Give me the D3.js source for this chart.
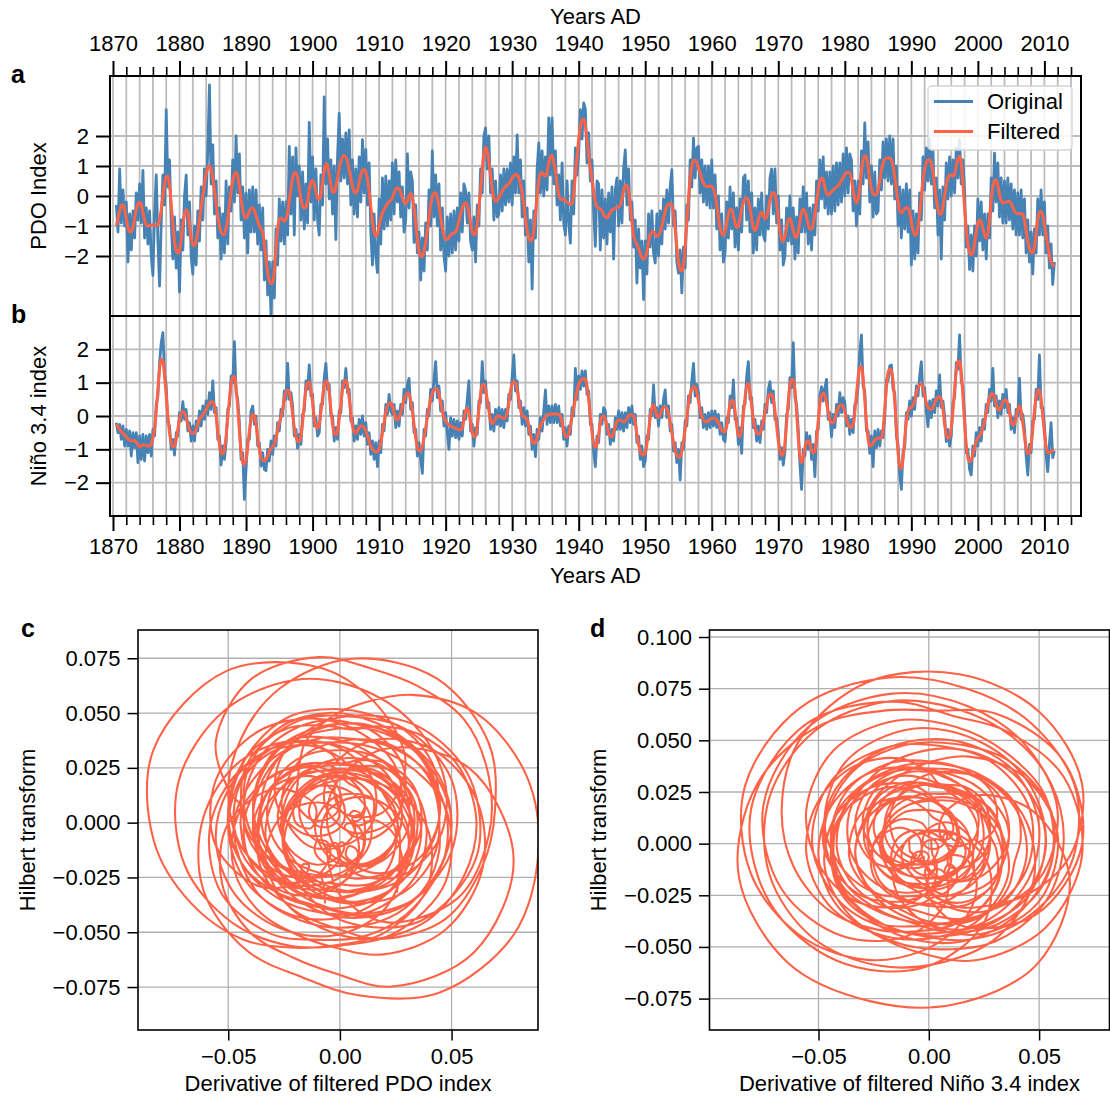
<!DOCTYPE html>
<html><head><meta charset="utf-8">
<script src="https://cdn.jsdelivr.net/npm/d3@7"></script>
<style>
body{margin:0;background:#fff}
svg{display:block}
text{font-family:"Liberation Sans",Arial,Helvetica,sans-serif;fill:#000}
</style></head><body>
<svg id="fig" width="1110" height="1097"></svg>
<script>
// Quarterly samples of the monthly indices, first sample at 1870.5
const startYear = 1870.5;
const stepYears = 0.25;

const pdoOriginal = [
 -0.3,-1.2,
 0.9,-0.9,0.2,-1.0, -0.2,-2.2,-0.6,-1.8, -0.5,-1.4,0.1,-0.8, 0.4,-0.9,0.85,-1.4, -0.4,-1.6,-0.5,-2.0,
 -2.65,-0.6,0.7,-1.5, -3.0,-0.9,0.7,-0.3, 2.88,0.3,1.2,-0.9, -2.1,-0.7,-2.4,-1.2, -3.2,-0.8,-1.8,0.0,
 0.7,-1.3,-0.2,-2.0, -2.6,-1.0,-2.3,-0.5, -1.5,0.3,-0.8,0.9, 0.0,1.5,3.7,0.4, 1.7,-0.6,0.5,-1.4,
 -0.4,-2.1,-0.6,-1.9, 0.5,-1.6,0.3,-0.5, 1.2,-0.2,2.0,0.1, 1.4,-0.8,0.3,-1.4, 0.1,-1.9,0.2,-1.2,
 0.3,-1.2,0.2,-1.6, -0.3,-1.8,-0.4,-2.8, -1.5,-3.3,-2.2,-3.95, -2.2,-3.4,-1.1,-2.3, -0.1,-1.5,-0.2,-1.6,
 -0.2,-1.3,1.65,-0.6, 1.3,-1.3,1.6,0.0, 1.0,-0.8,0.8,-1.1, 0.4,-0.9,2.45,-0.2, 1.3,-0.8,0.9,-0.8,
 -1.3,0.7,-0.3,3.3, 0.4,1.9,-0.1,1.2, -0.6,1.0,-1.45,1.3, 2.75,0.5,1.9,0.6, 2.1,0.4,2.2,-0.3,
 1.2,-0.6,0.9,-0.7, 1.3,-0.2,1.88,0.1, 1.55,-0.3,1.1,-1.2, -2.3,-0.6,-2.0,-2.55, -0.1,-1.6,0.6,-1.1,
 0.66,-1.0,0.5,-0.8, 1.1,-0.6,1.2,-0.2, 0.8,-0.7,0.3,-1.2, -0.8,1.4,-0.4,0.8, 0.5,-1.55,-0.3,-1.9,
 -1.2,-2.8,-1.4,-2.5, -0.9,-1.8,0.2,-1.0, 1.5,-0.7,0.7,-1.0, 0.4,-1.8,-0.4,-2.0, -2.5,-0.7,-2.0,-0.6,
 -1.9,-0.5,-1.8,-0.4, -1.5,0.1,-1.2,0.4, 0.2,-0.9,0.1,-1.5, -1.8,-0.7,-2.2,-0.3, -1.0,0.9,0.1,2.0,
 2.27,0.9,2.0,0.1, 0.9,-0.8,0.5,-0.7, -0.6,0.7,-0.5,0.9, -0.3,0.9,-0.2,1.1, -0.3,1.3,0.1,2.04,
 0.1,1.2,-0.7,0.5, -1.3,-0.4,-2.2,-0.8, -3.1,-0.5,-1.4,0.9, 1.77,0.1,1.5,0.0, 1.3,0.2,2.6,0.7,
 2.6,0.4,1.5,-0.3, 0.7,-0.8,1.1,-0.9, -1.3,0.5,-0.9,-1.57, 0.5,-0.6,1.6,0.7, 1.4,2.88,1.9,3.1,
 2.9,1.1,2.1,0.5, 1.2,-0.5,-1.68,0.5, 0.4,-1.8,0.2,-1.4, -0.1,-1.6,0.1,-1.2, 0.3,-2.1,0.2,0.6,
 -1.0,0.5,-0.9,0.9, 1.54,-0.3,0.9,-0.8, -0.2,-1.7,-0.8,-2.9, -1.1,-2.4,-1.5,-3.45, -1.5,-2.6,-0.6,-1.7,
 -0.5,-1.9,-2.23,-0.6, -2.0,-0.5,-1.6,-0.1, -1.1,0.2,-0.9,0.3, 0.88,-1.0,-0.5,-2.2, -2.57,-1.8,-3.23,-1.7,
 -2.4,-0.3,-0.8,1.2, 0.3,1.93,0.6,1.6, 1.66,0.1,1.2,-0.2, 1.0,-0.3,1.0,-0.4, 1.2,-0.4,0.7,-1.1,
 0.0,-1.8,-0.6,-2.2, -1.9,-0.2,-1.4,0.3, -1.1,0.1,-1.7,-0.4, -1.8,-0.1,-1.2,0.6, 0.7,-0.8,0.5,-1.2,
 0.1,-1.9,-0.4,-1.8, -0.1,-1.3,0.1,-1.3, -1.5,0.0,-1.1,0.6, 0.9,-0.6,0.9,-0.9, 0.0,-1.8,-0.8,-2.3,
 -2.0,-0.4,-1.5,0.0, -1.6,-0.4,-2.1,-0.7, -1.9,-0.1,-1.2,0.3, -1.2,0.1,-1.6,-0.4, -1.8,-0.3,-1.3,0.5,
 -0.5,1.2,-0.1,1.3, -0.4,0.8,-0.6,0.8, -0.6,1.0,-0.5,1.1, -0.3,1.1,-0.2,1.4, 0.0,1.6,0.1,1.4,
 1.2,-0.5,0.5,-1.0, 0.5,-0.6,1.5,0.4, 2.44,0.6,1.8,-0.2, 1.0,-0.7,0.8,-0.6, -0.5,1.2,0.2,1.8,
 0.6,1.9,0.5,2.0, 0.4,1.9,-0.1,1.0, -1.0,0.3,-1.4,0.2, -1.1,0.4,-1.2,0.2, -2.3,-0.5,-2.1,-0.6,
 -1.9,0.1,-0.8,1.3, 0.2,1.6,0.5,1.9, 0.4,1.5,-0.4,0.6, -1.3,0.2,-2.1,0.3, -0.8,1.1,-0.1,1.3,
 0.0,1.2,0.1,1.6, 0.6,1.9,0.4,1.2, 0.2,-1.7,-1.0,-2.45, -1.3,-2.5,-1.0,-2.0, -0.1,-1.5,-0.2,-1.8,
 -0.6,-2.1,-0.6,-1.4, 0.6,-0.5,1.43,-0.2, 1.1,-0.7,0.6,-0.9, 0.5,-0.9,0.6,-0.8, 0.4,-1.1,0.2,-1.3,
 0.1,-1.3,0.2,-1.4, -0.1,-1.9,-0.8,-2.2, -1.2,-2.6,-1.1,-1.9, -0.1,-1.3,0.2,-1.3, -0.2,-1.9,-1.0,-2.4,
 -1.6,-2.95,-2.2
];

const pdoFiltered = [
 -0.98,-0.75,
 -0.5,-0.33,-0.29,-0.45, -0.75,-1.05,-1.2,-1.19, -1.05,-0.75,-0.45,-0.27, -0.21,-0.3,-0.55,-0.8, -0.96,-1.0,-0.99,-0.97,
 -0.96,-0.97,-0.98,-0.95, -0.8,-0.45,0.0,0.4, 0.65,0.67,0.35,-0.25, -0.95,-1.5,-1.82,-1.9, -1.8,-1.45,-0.95,-0.6,
 -0.47,-0.55,-0.95,-1.4, -1.62,-1.66,-1.5,-1.2, -0.8,-0.4,0.0,0.4, 0.75,0.95,1.01,0.9, 0.6,0.2,-0.25,-0.7,
 -1.0,-1.2,-1.28,-1.28, -1.1,-0.75,-0.3,0.15, 0.5,0.72,0.79,0.65, 0.3,-0.1,-0.45,-0.67, -0.73,-0.65,-0.5,-0.41,
 -0.4,-0.48,-0.65,-0.85, -1.0,-1.08,-1.2,-1.6, -2.1,-2.55,-2.82,-2.92, -2.88,-2.5,-1.8,-1.1, -0.76,-0.74,-0.8,-0.84,
 -0.78,-0.55,-0.15,0.25, 0.6,0.77,0.78,0.6, 0.25,-0.1,-0.33,-0.4, -0.37,-0.15,0.2,0.45, 0.52,0.4,0.15,-0.07,
 -0.11,0.05,0.45,0.85, 1.08,1.0,0.72,0.38, 0.14,0.12,0.3,0.6, 0.9,1.15,1.3,1.34, 1.3,1.15,0.9,0.6,
 0.32,0.15,0.1,0.2, 0.45,0.7,0.85,0.88, 0.8,0.55,0.15,-0.35, -0.85,-1.2,-1.34,-1.25, -1.0,-0.75,-0.55,-0.45,
 -0.35,-0.25,-0.19,-0.15, -0.05,0.1,0.22,0.27, 0.25,0.12,-0.05,-0.2, -0.26,-0.18,0.0,0.08, -0.05,-0.4,-0.9,-1.45,
 -1.85,-2.0,-2.02,-1.85, -1.55,-1.15,-0.7,-0.3, -0.02,0.1,0.11,-0.05, -0.35,-0.7,-1.05,-1.32, -1.44,-1.45,-1.38,-1.3,
 -1.25,-1.23,-1.2,-1.05, -0.85,-0.6,-0.4,-0.27, -0.23,-0.3,-0.55,-0.9, -1.2,-1.29,-1.25,-0.95, -0.4,0.2,0.85,1.4,
 1.63,1.5,1.15,0.7, 0.25,-0.08,-0.18,-0.15, -0.05,0.05,0.15,0.25, 0.32,0.36,0.4,0.5, 0.6,0.68,0.71,0.71,
 0.6,0.4,0.1,-0.3, -0.75,-1.15,-1.4,-1.5, -1.45,-1.15,-0.6,0.0, 0.5,0.75,0.78,0.7, 0.66,0.8,1.1,1.32,
 1.35,1.15,0.8,0.4, 0.05,-0.1,-0.12,-0.1, -0.15,-0.2,-0.25,-0.28, -0.25,0.1,0.7,1.3, 1.9,2.3,2.52,2.57,
 2.35,1.85,1.35,0.95, 0.55,0.15,-0.2,-0.36, -0.4,-0.44,-0.5,-0.62, -0.7,-0.73,-0.65,-0.55, -0.47,-0.44,-0.42,-0.4,
 -0.36,-0.3,-0.1,0.18, 0.35,0.36,0.15,-0.3, -0.85,-1.3,-1.5,-1.62, -1.75,-1.92,-2.05,-2.1, -2.05,-1.85,-1.55,-1.3,
 -1.18,-1.19,-1.28,-1.34, -1.32,-1.2,-1.0,-0.75, -0.5,-0.35,-0.27,-0.26, -0.3,-0.6,-1.1,-1.7, -2.2,-2.45,-2.5,-2.3,
 -1.7,-0.9,-0.1,0.6, 1.0,1.18,1.2,1.1, 0.92,0.77,0.58,0.42, 0.35,0.32,0.32,0.33, 0.32,0.25,0.05,-0.3,
 -0.7,-1.05,-1.25,-1.3, -1.2,-0.9,-0.6,-0.45, -0.45,-0.65,-0.9,-1.05, -1.0,-0.75,-0.45,-0.2, -0.08,-0.07,-0.15,-0.4,
 -0.75,-1.05,-1.15,-1.05, -0.8,-0.6,-0.55,-0.65, -0.75,-0.7,-0.45,-0.15, 0.05,0.12,0.05,-0.25, -0.7,-1.15,-1.45,-1.5,
 -1.35,-1.05,-0.8,-0.75, -0.9,-1.15,-1.35,-1.38, -1.2,-0.85,-0.55,-0.45, -0.5,-0.7,-0.95,-1.1, -1.1,-0.95,-0.6,-0.2,
 0.2,0.5,0.6,0.55, 0.3,0.08,0.04,0.08, 0.15,0.2,0.25,0.3, 0.35,0.42,0.52,0.62, 0.72,0.78,0.79,0.77,
 0.55,0.2,-0.1,-0.23, -0.1,0.3,0.8,1.2, 1.33,1.3,1.0,0.55, 0.25,0.08,0.04,0.05, 0.2,0.5,0.85,1.1,
 1.22,1.27,1.27,1.27, 1.2,1.0,0.65,0.2, -0.2,-0.5,-0.57,-0.5, -0.42,-0.38,-0.4,-0.55, -0.85,-1.15,-1.3,-1.3,
 -1.05,-0.6,-0.05,0.5, 0.9,1.12,1.2,1.21, 1.1,0.8,0.35,-0.1, -0.45,-0.6,-0.6,-0.35, 0.0,0.35,0.6,0.7,
 0.7,0.66,0.72,1.0, 1.25,1.32,1.1,0.4, -0.4,-1.1,-1.6,-1.88, -1.96,-1.9,-1.6,-1.2, -0.9,-0.8,-0.85,-1.1,
 -1.3,-1.4,-1.25,-0.75, -0.15,0.3,0.52,0.53, 0.35,0.05,-0.15,-0.23, -0.22,-0.2,-0.18,-0.18, -0.25,-0.38,-0.5,-0.57,
 -0.58,-0.58,-0.59,-0.62, -0.8,-1.15,-1.5,-1.75, -1.88,-1.9,-1.7,-1.25, -0.8,-0.55,-0.51,-0.65, -0.95,-1.3,-1.65,-1.95,
 -2.2,-2.3,-2.36
];

const ninoOriginal = [
 -0.2,-0.5,
 -0.25,-0.7,-0.3,-0.9, -0.4,-0.9,-0.45,-1.2, -0.5,-0.95,-0.5,-1.4, -0.6,-1.3,-0.55,-1.35, -0.6,-1.1,-0.55,-1.2,
 -0.4,-0.6,0.35,0.6, 1.6,2.2,2.5,1.3, 0.9,-0.2,-0.3,-1.0, -0.7,-1.17,-0.5,-0.6, 0.1,-0.15,0.43,-0.1,
 0.2,-0.45,-0.2,-0.75, -0.3,-0.75,-0.15,-0.45, 0.15,-0.3,0.3,-0.1, 0.45,0.05,0.7,0.2, 1.05,0.1,0.25,-0.7,
 -0.6,-1.47,-0.9,-1.3, -0.8,0.2,0.3,1.2, 1.0,2.23,0.7,0.5, -0.2,-1.3,-1.1,-2.5, -1.6,-0.7,-0.7,0.15,
 0.3,-0.25,0.0,-0.9, -0.8,-1.5,-1.1,-1.6, -1.64,-1.0,-1.35,-0.75, -1.15,-0.6,-0.9,-0.2, -0.45,0.2,0.0,0.75,
 0.5,1.58,0.5,0.7, 0.3,-0.6,-0.4,-0.97, -0.55,-0.85,0.05,0.15, 1.05,0.8,1.53,0.6, 0.65,-0.3,-0.05,-0.6,
 -0.5,0.35,0.35,1.15, 1.58,0.8,0.95,0.0, 0.0,-0.75,-0.35,-0.7, 0.15,0.1,1.05,0.85, 1.43,0.7,0.8,-0.15,
 -0.05,-0.75,-0.3,-0.7, -0.1,-0.55,0.0,-0.6, -0.2,-0.85,-0.5,-1.15, -0.75,-1.3,-0.8,-1.52, -0.75,-1.1,-0.25,-0.45,
 0.35,0.05,0.65,0.15, 0.05,0.35,-0.35,0.15, -0.3,0.35,0.05,0.8, 0.4,0.95,1.13,0.2, 0.4,-0.5,-0.4,-1.2,
 -0.8,-1.3,-1.72,-0.4, -0.6,0.2,0.0,0.8, 0.45,1.1,1.63,0.55, 0.9,0.15,0.45,-0.3, 0.1,-0.5,-1.0,-0.05,
 -0.6,-0.1,-0.65,-0.15, -0.7,-0.2,-0.6,0.15, -0.1,0.5,1.05,-0.45, -0.25,-0.9,-0.35,-0.55, 0.45,0.4,1.63,0.7,
 1.05,0.25,0.4,-0.4, 0.05,-0.45,0.2,-0.25, 0.25,-0.3,0.2,-0.35, 0.2,-0.15,0.65,0.5, 1.2,1.83,0.75,1.05,
 0.25,0.45,-0.25,0.25, -0.3,0.15,-0.55,-0.3, -1.0,-0.55,-1.22,-0.4, -0.7,-0.05,-0.45,0.15, 0.78,-0.25,0.3,-0.2,
 0.3,-0.2,0.35,-0.2, 0.3,-0.3,0.05,-0.7, -0.35,-0.9,-0.3,-0.55, 0.25,0.0,1.43,0.5, 1.2,0.8,1.35,0.9,
 1.35,0.65,0.75,-0.25, -0.25,-1.1,-1.52,-0.6, -0.8,0.05,-0.25,0.25, 0.15,-0.55,-0.25,-0.85, -0.4,-0.75,-0.05,-0.4,
 0.15,-0.4,0.1,-0.45, 0.1,-0.35,0.25,-0.2, 0.3,-0.25,0.05,-0.8, -0.6,-1.3,-0.9,-1.52, -1.35,-0.6,-0.7,0.2,
 0.0,0.93,-0.05,0.25, -0.3,0.3,-0.05,0.5, 0.78,-0.05,0.3,-0.45, -0.25,-1.05,-0.8,-1.4, -1.0,-1.92,-0.8,-1.0,
 -0.15,-0.3,0.6,0.4, 1.05,1.58,0.6,0.95, 0.7,-0.05,0.25,-0.35, 0.05,-0.4,0.1,-0.35, 0.15,-0.3,0.15,-0.35,
 0.05,-0.55,-0.2,-0.7, -0.77,-0.05,-0.2,0.6, 0.25,1.08,-0.1,-0.05, -0.85,-0.35,-1.12,0.3, 0.35,1.2,1.63,0.5,
 0.55,-0.35,-0.1,-0.75, -0.3,-0.8,-0.15,-0.4, 0.35,0.1,0.8,1.03, 0.4,0.75,-0.1,-0.05, -0.5,-1.3,-0.95,-1.47,
 -1.05,0.05,0.2,1.15, 0.85,2.2,0.55,0.35, -0.4,-1.45,-2.2,-1.0, -1.2,-0.5,-1.0,-0.6, -1.3,-0.85,-1.82,-0.45,
 -0.4,0.6,0.88,0.45, 0.85,1.1,-0.1,0.1, -0.62,0.05,-0.35,0.35, 0.0,0.7,0.1,0.55, 0.4,-0.3,0.0,-0.55,
 -0.1,-0.5,0.35,0.4, 0.9,1.9,2.43,0.9, 0.75,-0.45,-0.45,-1.12, -0.6,-1.52,-0.45,-0.95, -0.4,-0.9,-0.45,-0.65,
 -0.05,1.1,1.05,1.5, 1.53,0.8,0.7,-0.6, -0.85,-1.75,-2.2,-1.05, -0.95,0.1,-0.1,0.45, 0.0,0.55,0.2,0.9,
 0.6,1.2,1.63,0.6, 0.85,0.15,-0.32,0.45, -0.05,0.5,0.1,0.75, 0.3,1.23,0.25,0.45, 0.0,-0.77,-0.4,-0.9,
 -0.6,0.4,0.55,1.6, 1.4,2.43,1.05,0.85, 0.05,-1.1,-1.0,-1.6, -1.77,-0.9,-1.2,-0.5, -0.9,-0.35,-0.75,-0.1,
 -0.4,0.35,0.1,0.8, 0.45,1.43,0.3,0.6, -0.05,0.45,0.05,0.65, 0.25,0.8,0.1,0.35, -0.4,-0.05,-0.5,0.2,
 0.0,1.13,-0.1,0.05, -0.35,-1.2,-1.77,-0.85, -1.1,-0.15,-0.1,0.8, 0.5,1.83,0.25,0.25, -0.25,-1.15,-1.67,-0.85,
 -0.2,-1.25,-1.05
];

const ninoFiltered = [
 -0.25,-0.33,
 -0.4,-0.47,-0.52,-0.57, -0.63,-0.68,-0.72,-0.74, -0.74,-0.74,-0.78,-0.86, -0.92,-0.9,-0.87,-0.87, -0.88,-0.9,-0.9,-0.85,
 -0.65,-0.35,0.15,0.8, 1.4,1.7,1.65,1.2, 0.6,0.0,-0.5,-0.8, -0.92,-0.9,-0.7,-0.4, -0.1,0.08,0.13,0.1,
 -0.05,-0.25,-0.42,-0.5, -0.52,-0.5,-0.4,-0.25, -0.1,-0.02,0.03,0.1, 0.2,0.3,0.38,0.42, 0.43,0.3,0.0,-0.45,
 -0.85,-1.1,-1.14,-1.0, -0.6,-0.05,0.5,0.95, 1.18,1.18,0.85,0.25, -0.45,-1.05,-1.4,-1.46, -1.3,-0.9,-0.45,-0.1,
 0.05,0.0,-0.25,-0.65, -1.0,-1.25,-1.33,-1.34, -1.3,-1.2,-1.08,-0.98, -0.92,-0.85,-0.65,-0.42, -0.2,-0.04,0.2,0.5,
 0.72,0.78,0.72,0.45, 0.05,-0.35,-0.62,-0.75, -0.77,-0.6,-0.2,0.35, 0.8,1.0,1.02,0.8, 0.4,-0.05,-0.3,-0.37,
 -0.25,0.1,0.55,0.92, 1.05,1.0,0.7,0.2, -0.25,-0.52,-0.57,-0.45, -0.1,0.35,0.8,1.05, 1.08,0.9,0.55,0.1,
 -0.3,-0.48,-0.52,-0.45, -0.35,-0.3,-0.3,-0.35, -0.45,-0.6,-0.75,-0.9, -1.0,-1.05,-1.07,-1.07, -1.0,-0.8,-0.5,-0.2,
 0.1,0.3,0.38,0.4, 0.3,0.1,-0.08,-0.12, -0.05,0.1,0.3,0.5, 0.62,0.68,0.65,0.45, 0.15,-0.25,-0.65,-0.95,
 -1.04,-1.04,-0.9,-0.65, -0.35,-0.05,0.25,0.5, 0.68,0.78,0.81,0.8, 0.65,0.4,0.15,-0.05, -0.15,-0.22,-0.27,-0.3,
 -0.33,-0.35,-0.37,-0.39, -0.41,-0.42,-0.35,-0.1, 0.15,0.23,0.1,-0.2, -0.5,-0.62,-0.6,-0.3, 0.2,0.65,0.92,0.95,
 0.8,0.5,0.15,-0.12, -0.22,-0.18,-0.08,0.0, 0.0,-0.03,-0.06,-0.07, -0.05,0.1,0.4,0.75, 0.97,1.03,1.0,0.8,
 0.5,0.2,0.02,-0.02, -0.05,-0.1,-0.3,-0.55, -0.75,-0.82,-0.8,-0.65, -0.45,-0.3,-0.2,-0.1, -0.03,0.02,0.05,0.06,
 0.06,0.06,0.06,0.06, 0.05,0.0,-0.2,-0.45, -0.6,-0.62,-0.55,-0.3, 0.0,0.25,0.5,0.75, 0.95,1.05,1.1,1.13,
 1.1,0.9,0.5,0.0, -0.5,-0.82,-0.94,-0.85, -0.55,-0.2,-0.02,0.0, -0.1,-0.3,-0.5,-0.6, -0.62,-0.5,-0.3,-0.15,
 -0.12,-0.12,-0.15,-0.17, -0.15,-0.08,0.0,0.03, 0.03,0.0,-0.2,-0.55, -0.85,-1.05,-1.15,-1.17, -1.1,-0.85,-0.45,-0.05,
 0.25,0.33,0.2,0.02, -0.04,0.05,0.18,0.26, 0.28,0.22,0.05,-0.2, -0.5,-0.8,-1.02,-1.17, -1.24,-1.22,-1.05,-0.75,
 -0.4,-0.05,0.35,0.65, 0.82,0.88,0.87,0.72, 0.45,0.18,0.0,-0.12, -0.17,-0.17,-0.14,-0.1, -0.07,-0.07,-0.07,-0.12,
 -0.2,-0.32,-0.42,-0.47, -0.47,-0.3,0.05,0.35, 0.47,0.45,0.15,-0.3, -0.58,-0.62,-0.4,0.05, 0.55,0.88,0.98,0.75,
 0.3,-0.1,-0.38,-0.5, -0.54,-0.52,-0.38,-0.15, 0.1,0.35,0.55,0.65, 0.65,0.5,0.15,-0.3, -0.75,-1.05,-1.18,-1.15,
 -0.8,-0.2,0.45,0.9, 1.08,1.1,0.8,0.1, -0.65,-1.2,-1.4,-1.25, -0.95,-0.77,-0.74,-0.85, -1.02,-1.11,-1.05,-0.7,
 -0.15,0.35,0.62,0.68, 0.6,0.4,0.12,-0.12, -0.21,-0.2,-0.08,0.1, 0.25,0.32,0.33,0.28, 0.12,-0.08,-0.25,-0.33,
 -0.34,-0.25,0.1,0.65, 1.15,1.45,1.48,1.15, 0.5,-0.2,-0.7,-0.9, -0.88,-0.8,-0.72,-0.68, -0.66,-0.67,-0.67,-0.4,
 0.2,0.85,1.3,1.4, 1.35,1.05,0.45,-0.35, -1.1,-1.5,-1.58,-1.3, -0.7,-0.15,0.15,0.23, 0.27,0.32,0.45,0.68,
 0.85,0.94,0.96,0.85, 0.62,0.4,0.26,0.21, 0.2,0.25,0.38,0.5, 0.57,0.58,0.5,0.2, -0.25,-0.55,-0.67,-0.63,
 -0.35,0.15,0.8,1.35, 1.64,1.65,1.3,0.6, -0.2,-0.85,-1.25,-1.37, -1.32,-1.15,-0.95,-0.77, -0.66,-0.6,-0.5,-0.35,
 -0.15,0.1,0.35,0.55, 0.66,0.67,0.55,0.35, 0.2,0.18,0.28,0.42, 0.48,0.47,0.35,0.1, -0.15,-0.27,-0.24,-0.05,
 0.2,0.3,0.15,-0.2, -0.6,-0.95,-1.13,-1.12, -0.85,-0.4,0.15,0.55, 0.77,0.78,0.5,0.0, -0.5,-0.9,-1.1,-1.1,
 -1.06,-1.04,-1.03
];

const yearTicks = [1870, 1880, 1890, 1900, 1910, 1920, 1930, 1940, 1950, 1960, 1970, 1980, 1990, 2000, 2010];
const yearMinorTicks = [1872, 1874, 1876, 1878, 1882, 1884, 1886, 1888, 1892, 1894, 1896, 1898, 1902, 1904, 1906, 1908,
  1912, 1914, 1916, 1918, 1922, 1924, 1926, 1928, 1932, 1934, 1936, 1938, 1942, 1944, 1946, 1948,
  1952, 1954, 1956, 1958, 1962, 1964, 1966, 1968, 1972, 1974, 1976, 1978, 1982, 1984, 1986, 1988,
  1992, 1994, 1996, 1998, 2002, 2004, 2006, 2008, 2012, 2014];
const pdoTicks = [-2, -1, 0, 1, 2];
const ninoTicks = [-2, -1, 0, 1, 2];
const phasePdoXTicks = [-0.05, 0, 0.05];
const phasePdoYTicks = [-0.075, -0.05, -0.025, 0, 0.025, 0.05, 0.075];
const phaseNinoXTicks = [-0.05, 0, 0.05];
const phaseNinoYTicks = [-0.075, -0.05, -0.025, 0, 0.025, 0.05, 0.075, 0.1];

// Sample spacing in months, and the time unit the derivative is expressed in
const sampleStepMonths = 3;
const derivativeUnitMonths = 1 / 3;

const BLUE = "#4682b4", RED = "#ff6347", GRID = "#bcbcbc";
const FS = 22;

const svg = d3.select("#fig");
const defs = svg.append("defs");

const x = d3.scaleLinear().domain([1869.55, 2015.5]).range([110, 1081]);
const ya = d3.scaleLinear().domain([-4, 4]).range([316, 76]);
const yb = d3.scaleLinear().domain([-3, 3]).range([516, 316]);

function styleAxis(g, width, fontSize) {
  g.select(".domain").remove();
  g.attr("font-size", null).attr("font-family", null);
  g.selectAll(".tick line").attr("stroke", "#000").attr("stroke-width", width);
  g.selectAll(".tick text").style("font-size", fontSize + "px");
}

function timePanel(id, y, orig, filt, ticks) {
  const [y0, y1] = y.range();
  const g = svg.append("g");
  defs.append("clipPath").attr("id", id).append("rect")
    .attr("x", 110).attr("y", y1).attr("width", 971).attr("height", y0 - y1);
  // grid
  g.append("g").selectAll("line").data(yearTicks.concat(yearMinorTicks).filter(d => x(d) < 1081)).join("line")
    .attr("x1", d => x(d)).attr("x2", d => x(d)).attr("y1", y1).attr("y2", y0)
    .attr("stroke", GRID).attr("stroke-width", 1.8);
  g.append("g").selectAll("line").data(ticks).join("line")
    .attr("x1", 110).attr("x2", 1081).attr("y1", d => y(d)).attr("y2", d => y(d))
    .attr("stroke", GRID).attr("stroke-width", 1.8);
  const n = Math.min(orig.length, filt.length);
  const idx = d3.range(n);
  const lineO = d3.line().x(i => x(startYear + i * stepYears)).y(i => y(orig[i]));
  const lineF = d3.line().x(i => x(startYear + i * stepYears)).y(i => y(filt[i])).curve(d3.curveMonotoneX);
  const data = g.append("g").attr("clip-path", `url(#${id})`);
  data.append("path").attr("d", lineO(idx)).attr("fill", "none").attr("stroke", BLUE)
    .attr("stroke-width", 2.8).attr("stroke-linejoin", "round");
  data.append("path").attr("d", lineF(idx)).attr("fill", "none").attr("stroke", RED)
    .attr("stroke-width", 3).attr("stroke-linejoin", "round");
  // y axis
  const ax = g.append("g").attr("transform", "translate(110,0)")
    .call(d3.axisLeft(y).tickValues(ticks).tickSize(14).tickPadding(7).tickFormat(d3.format("d")));
  styleAxis(ax, 2, FS);
  return g;
}

const ga = timePanel("clipA", ya, pdoOriginal, pdoFiltered, pdoTicks);
const gb = timePanel("clipB", yb, ninoOriginal, ninoFiltered, ninoTicks);

// top year axis
const topMajor = svg.append("g").attr("transform", "translate(0,76)")
  .call(d3.axisTop(x).tickValues(yearTicks).tickSize(15).tickPadding(10).tickFormat(d3.format("d")));
styleAxis(topMajor, 2, FS);
const topMinor = svg.append("g").attr("transform", "translate(0,76)")
  .call(d3.axisTop(x).tickValues(yearMinorTicks).tickSize(9).tickFormat(""));
styleAxis(topMinor, 1.6, FS);
// bottom year axis
const botMajor = svg.append("g").attr("transform", "translate(0,516)")
  .call(d3.axisBottom(x).tickValues(yearTicks).tickSize(15).tickPadding(7).tickFormat(d3.format("d")));
styleAxis(botMajor, 2, FS);
const botMinor = svg.append("g").attr("transform", "translate(0,516)")
  .call(d3.axisBottom(x).tickValues(yearMinorTicks).tickSize(9).tickFormat(""));
styleAxis(botMinor, 1.6, FS);

// panel frames
svg.append("rect").attr("x", 110).attr("y", 76).attr("width", 971).attr("height", 240)
  .attr("fill", "none").attr("stroke", "#000").attr("stroke-width", 2);
svg.append("rect").attr("x", 110).attr("y", 316).attr("width", 971).attr("height", 200)
  .attr("fill", "none").attr("stroke", "#000").attr("stroke-width", 2);

// legend
const lg = svg.append("g");
lg.append("rect").attr("x", 928).attr("y", 86).attr("width", 144).attr("height", 64).attr("rx", 4)
  .attr("fill", "#fff").attr("fill-opacity", 0.85).attr("stroke", "#d4d4d4").attr("stroke-width", 1.3);
[["Original", BLUE, 101.5], ["Filtered", RED, 131.5]].forEach(([t, c, yy]) => {
  lg.append("line").attr("x1", 934).attr("x2", 973).attr("y1", yy).attr("y2", yy)
    .attr("stroke", c).attr("stroke-width", 3);
  lg.append("text").attr("x", 987).attr("y", yy).attr("dy", "0.35em").style("font-size", FS + "px").text(t);
});

// axis titles and panel letters
svg.append("text").attr("x", 595.5).attr("y", 24).attr("text-anchor", "middle").style("font-size", FS + "px").text("Years AD");
svg.append("text").attr("x", 595.5).attr("y", 583).attr("text-anchor", "middle").style("font-size", FS + "px").text("Years AD");
svg.append("text").attr("transform", "translate(46,196) rotate(-90)").attr("text-anchor", "middle")
  .style("font-size", FS + "px").text("PDO Index");
svg.append("text").attr("transform", "translate(46,416) rotate(-90)").attr("text-anchor", "middle")
  .style("font-size", FS + "px").text("Niño 3.4 index");
[["a", 11, 83], ["b", 11, 323], ["c", 21, 637], ["d", 590, 637]].forEach(([t, xx, yy]) => {
  svg.append("text").attr("x", xx).attr("y", yy).style("font-size", "25px").style("font-weight", "bold").text(t);
});

// derivative (central differences) and Hilbert transform (via DFT)
function derivative(v) {
  const n = v.length, out = new Array(n);
  for (let i = 0; i < n; i++) {
    const a = Math.max(0, i - 1), b = Math.min(n - 1, i + 1);
    out[i] = (v[b] - v[a]) / ((b - a) * sampleStepMonths) * derivativeUnitMonths;
  }
  return out;
}
function hilbert(v) {
  const n = v.length;
  const c = new Float64Array(n), s = new Float64Array(n);
  for (let k = 0; k < n; k++) { c[k] = Math.cos(2 * Math.PI * k / n); s[k] = Math.sin(2 * Math.PI * k / n); }
  const re = new Float64Array(n), im = new Float64Array(n);
  for (let k = 0; k < n; k++) {
    let r = 0, m = 0;
    for (let t = 0; t < n; t++) { const j = (k * t) % n; r += v[t] * c[j]; m -= v[t] * s[j]; }
    const sg = (k === 0 || 2 * k === n) ? 0 : (k < n / 2 ? 1 : -1);
    re[k] = sg * m; im[k] = -sg * r;
  }
  const out = new Array(n);
  for (let t = 0; t < n; t++) {
    let r = 0;
    for (let k = 0; k < n; k++) { const j = (k * t) % n; r += re[k] * c[j] - im[k] * s[j]; }
    out[t] = r / n;
  }
  return out;
}

function phasePanel(id, left, top, xd, yd, filt, xt, yt, xlabel, ylabelX) {
  const w = 400, h = 400;
  const px = d3.scaleLinear().domain(xd).range([left, left + w]);
  const py = d3.scaleLinear().domain(yd).range([top + h, top]);
  const g = svg.append("g");
  defs.append("clipPath").attr("id", id).append("rect").attr("x", left).attr("y", top).attr("width", w).attr("height", h);
  g.append("g").selectAll("line").data(xt).join("line")
    .attr("x1", d => px(d)).attr("x2", d => px(d)).attr("y1", top).attr("y2", top + h)
    .attr("stroke", "#b0b0b0").attr("stroke-width", 1.3);
  g.append("g").selectAll("line").data(yt).join("line")
    .attr("x1", left).attr("x2", left + w).attr("y1", d => py(d)).attr("y2", d => py(d))
    .attr("stroke", "#b0b0b0").attr("stroke-width", 1.3);
  const d = derivative(filt);
  const hb = hilbert(d);
  const pts = d.map((v, i) => [v, hb[i]]);
  const line = d3.line().x(p => px(p[0])).y(p => py(p[1])).curve(d3.curveCatmullRom.alpha(0.5));
  g.append("g").attr("clip-path", `url(#${id})`).append("path").attr("d", line(pts))
    .attr("fill", "none").attr("stroke", RED).attr("stroke-width", 2.1).attr("stroke-linejoin", "round");
  const ax = g.append("g").attr("transform", `translate(0,${top + h})`)
    .call(d3.axisBottom(px).tickValues(xt).tickSize(10.5).tickPadding(8).tickFormat(d3.format(".2f")));
  styleAxis(ax, 1.5, FS);
  const ay = g.append("g").attr("transform", `translate(${left},0)`)
    .call(d3.axisLeft(py).tickValues(yt).tickSize(10.5).tickPadding(7).tickFormat(d3.format(".3f")));
  styleAxis(ay, 1.5, FS);
  g.append("rect").attr("x", left).attr("y", top).attr("width", w).attr("height", h)
    .attr("fill", "none").attr("stroke", "#000").attr("stroke-width", 1.6);
  g.append("text").attr("x", left + w / 2).attr("y", top + h + 61).attr("text-anchor", "middle")
    .style("font-size", FS + "px").text(xlabel);
  g.append("text").attr("transform", `translate(${ylabelX},${top + h / 2}) rotate(-90)`).attr("text-anchor", "middle")
    .style("font-size", FS + "px").text("Hilbert transform");
}

phasePanel("clipC", 138, 630, [-0.0904, 0.0887], [-0.0946, 0.0879], pdoFiltered,
  phasePdoXTicks, phasePdoYTicks, "Derivative of filtered PDO index", 35);
phasePanel("clipD", 709.5, 630, [-0.0994, 0.0819], [-0.0902, 0.1034], ninoFiltered,
  phaseNinoXTicks, phaseNinoYTicks, "Derivative of filtered Niño 3.4 index", 606);
</script>
</body></html>
